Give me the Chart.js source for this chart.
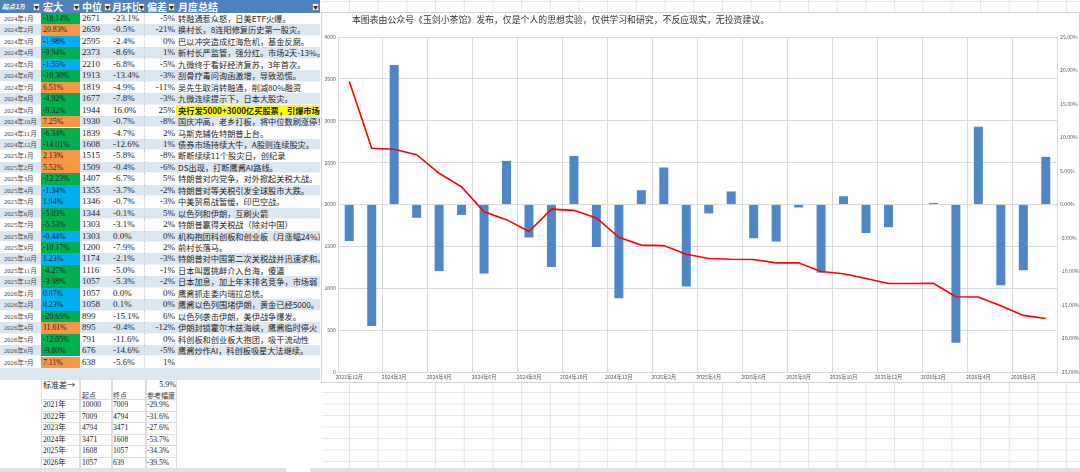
<!DOCTYPE html>
<html>
<head>
<meta charset="utf-8">
<script src="https://cdn.jsdelivr.net/npm/chart.js@4.4.1/dist/chart.umd.min.js"></script>
<style>
    body {
        margin: 0;
        width: 1080px;
        height: 472px;
        overflow: hidden;
        position: relative;
        background: #fff;
        font-family: "Liberation Serif", "Noto Sans CJK SC", serif;
        color: #222;
    }
    .sheet {
        position: absolute;
        left: 322px;
        top: 0;
        width: 758px;
        height: 472px;
        background-image: linear-gradient(to right, #e6e6e6 1px, transparent 1px),
                          linear-gradient(to bottom, #e6e6e6 1px, transparent 1px);
        background-size: 28.7px 11.5px;
        background-position: 27px 1px;
    }
    .cell {
        position: absolute;
        white-space: nowrap;
        overflow: hidden;
        box-sizing: border-box;
    }
    .hdr {
        position: absolute;
        left: 0;
        top: 0;
        width: 320px;
        height: 13px;
        background: #4f81bd;
        color: #fff;
        font-family: "Noto Sans CJK SC", sans-serif;
        font-weight: bold;
    }
    .dd {
        position: absolute;
        top: 3px;
        width: 7px;
        height: 8px;
        background: #f4f4f4;
        border: 1px solid #8a8a8a;
        box-sizing: border-box;
        color: #222;
        font-size: 5px;
        line-height: 6px;
        text-align: center;
        font-weight: normal;
    }
    #chartBox {
        position: absolute;
        left: 321px;
        top: 12px;
        width: 759px;
        height: 371px;
        background: #fff;
        border: 1px solid #d4d4d4;
        box-sizing: border-box;
    }
    #chartTitle {
        position: absolute;
        left: 352px;
        top: 13px;
        font-family: "Noto Sans CJK SC", sans-serif;
        font-size: 8.9px;
        line-height: 13px;
        color: #333;
        white-space: nowrap;
    }
</style>
</head>
<body>
<div class="sheet"></div>
<div id="tbl"></div>
<div id="stats"></div>
<div id="chartBox"></div>
<canvas id="comboChart" width="758" height="370" style="position:absolute;left:322px;top:13px;"></canvas>
<div id="chartTitle">本图表由公众号《玉剑小茶馆》发布，仅是个人的思想实验，仅供学习和研究，不反应现实，无投资建议。</div>
<div style="position:absolute;left:0;top:468px;width:286px;height:4px;background:#e2e2e2;"></div>
<div style="position:absolute;left:310px;top:468px;width:770px;height:4px;background:#e2e2e2;"></div>

<script>
const months = ['2024年1月', '2024年2月', '2024年3月', '2024年4月', '2024年5月', '2024年6月',
    '2024年7月', '2024年8月', '2024年9月', '2024年10月', '2024年11月', '2024年12月',
    '2025年1月', '2025年2月', '2025年3月', '2025年4月', '2025年5月', '2025年6月',
    '2025年7月', '2025年8月', '2025年9月', '2025年10月', '2025年11月', '2025年12月',
    '2026年1月', '2026年2月', '2026年3月', '2026年4月', '2026年5月', '2026年6月', '2026年7月'];
const hongda = [-18.14, 20.83, -1.98, -9.94, -1.55, -10.30, 6.51, -4.92, -9.32, 7.25, -6.34, -14.01,
    2.13, 5.52, -12.23, -1.34, 1.94, -5.03, -5.53, -0.44, -10.17, 1.23, -4.27, -3.38,
    0.07, 0.23, -20.65, 11.61, -12.05, -9.80, 7.11];
const median = [2671, 2659, 2595, 2373, 2210, 1913, 1819, 1677, 1944, 1930, 1839, 1608,
    1515, 1509, 1407, 1355, 1346, 1344, 1303, 1303, 1200, 1174, 1116, 1057,
    1057, 1058, 899, 895, 791, 676, 638];
const monthChange = [-23.1, -0.5, -2.4, -8.6, -6.8, -13.4, -4.9, -7.8, 16.0, -0.7, -4.7, -12.6,
    -5.8, -0.4, -6.7, -3.7, -0.7, -0.1, -3.1, 0.0, -7.9, -2.1, -5.0, -5.3,
    0.0, 0.1, -15.1, -0.4, -11.6, -14.6, -5.6];
const deviation = [-5, -21, 0, 1, -5, -3, -11, -3, 25, -8, 2, 1,
    -8, -6, 5, -2, -3, 5, 2, 0, 2, -3, -1, -2,
    0, 0, 6, -12, 0, -5, 1];
const summary = ['转融通惹众怒，日美ETF火爆。', '换村长，8连阳修复历史第一股灾。', '巴以冲突造成红海危机，基金反腐。',
    '新村长严监管，强分红。市场2天-13%。', '九微终于看好经济复苏，3年首次。', '刮骨疗毒问询函激增，导致恐慌。',
    '吴先生取消转融通，削减80%融资', '九微连续提示下，日本大股灾。', '央行发5000+3000亿买股票，引爆市场',
    '国庆冲高，老乡打板，将中位数刷涨停！', '马斯克辅佐特朗普上台。', '债券市场持续大牛，A股则连续股灾。',
    '断断续续11个股灾日，创纪录', 'DS出现，打断鹰酱AI路线。', '特朗普对内党争，对外掀起关税大战。',
    '特朗普对等关税引发全球股市大跌。', '中美贸易战暂缓，印巴空战。', '以色列和伊朗，互刷火箭',
    '特朗普赢得关税战（除对中国）', '机构抱团科创板和创业板（月涨幅24%）', '前村长落马。',
    '特朗普对中国第二次关税战并迅速求和。', '日本叫嚣挑衅介入台海，傻逼', '日本加息，加上年末排名竞争，市场弱',
    '鹰酱抓走委内瑞拉总统。', '鹰酱以色列围堵伊朗，黄金已经5000。', '以色列袭击伊朗，美伊战争爆发。',
    '伊朗封锁霍尔木兹海峡，鹰酱临时停火', '科创板和创业板大抱团，吸干流动性', '鹰酱炒作AI，科创板吸星大法继续。', ''];

// chart series: start point (2023年12月) + monthly rows
const startMonth = '2023年12月';
const startBar = -5.45;
const startMedian = 3471;
const chartMonths = [startMonth].concat(months);
const barValues = [startBar].concat(hongda);
const lineValues = [startMedian].concat(median);

// yearly stats table
const statYears = ['2021年', '2022年', '2023年', '2024年', '2025年', '2026年'];
const statStart = [10000, 7009, 4794, 3471, 1608, 1057];
const statEnd = [7009, 4794, 3471, 1608, 1057, 639];
const statRange = ['-29.9%', '-31.6%', '-27.6%', '-53.7%', '-34.3%', '-39.5%'];
const stdDev = '5.9%';

const ROW_H = 11.45;

function hongdaColor(v) {
    if (v > 2) return '#f79646';
    if (v < -2) return '#00b050';
    return '#00b0f0';
}

function buildTable() {
    const tbl = document.getElementById('tbl');
    let html = `
        <div class="hdr">
            <div class="cell" style="left:2px;top:0;height:13px;line-height:13px;font-size:6.5px;font-style:italic;">起点1万</div>
            <div class="dd" style="left:33px;">▼</div>
            <div class="cell" style="left:43px;top:0;height:13px;line-height:13px;font-size:10px;">宏大</div>
            <div class="dd" style="left:73px;">▼</div>
            <div class="cell" style="left:82px;top:0;height:13px;line-height:13px;font-size:10px;">中位</div>
            <div class="dd" style="left:104px;">▼</div>
            <div class="cell" style="left:112px;top:0;height:13px;line-height:13px;font-size:10px;">月环比</div>
            <div class="dd" style="left:138px;">▼</div>
            <div class="cell" style="left:147px;top:0;height:13px;line-height:13px;font-size:10px;">偏差</div>
            <div class="dd" style="left:168px;">▼</div>
            <div class="cell" style="left:178px;top:0;height:13px;line-height:13px;font-size:10px;">月度总结</div>
            <div class="dd" style="left:312px;">▼</div>
        </div>`;

    months.forEach((m, i) => {
        const top = 13 + i * ROW_H;
        const bg = i % 2 === 0 ? '#ffffff' : '#dce6f1';
        const base = `top:${top}px;height:${ROW_H}px;line-height:${ROW_H}px;`;
        const special = summary[i].indexOf('央行') === 0;
        html += `
            <div class="cell" style="left:0;width:320px;${base}background:${bg};border-bottom:1px solid rgba(255,255,255,0.6);"></div>
            <div class="cell" style="left:4px;width:37px;${base}font-size:6.6px;color:#444;">${m}</div>
            <div class="cell" style="left:41px;width:39px;${base}background:${hongdaColor(hongda[i])};font-size:7.8px;padding-left:2px;color:#222;">${hongda[i].toFixed(2)}%</div>
            <div class="cell" style="left:82px;width:29px;${base}font-size:9px;">${median[i]}</div>
            <div class="cell" style="left:111px;width:34px;${base}font-size:9px;padding-left:2px;border-right:1px dotted #c4cedb;">${monthChange[i].toFixed(1)}%</div>
            <div class="cell" style="left:145px;width:31px;${base}font-size:9px;text-align:right;padding-right:1px;">${deviation[i]}%</div>
            <div class="cell" style="left:176px;width:144px;${base}font-family:'Noto Sans CJK SC',sans-serif;font-size:8.2px;padding-left:2px;${special ? 'background:#ffff00;font-weight:bold;' : ''}">${summary[i]}</div>`;
    });

    // empty banded row below the data
    html += `<div class="cell" style="left:0;width:320px;top:${13 + months.length * ROW_H}px;height:12px;background:#dce6f1;"></div>`;
    tbl.innerHTML = html;
}

function buildStats() {
    const stats = document.getElementById('stats');
    const cjk = "font-family:'Noto Sans CJK SC',sans-serif;";
    let html = `
        <div class="cell" style="left:43px;top:380px;height:10px;line-height:10px;font-size:8px;${cjk}">标准差→</div>
        <div class="cell" style="left:146px;width:30px;top:380px;height:10px;line-height:10px;font-size:8px;text-align:right;">${stdDev}</div>
        <div class="cell" style="left:82px;top:390px;height:10px;line-height:10px;font-size:7px;${cjk}color:#333;">起点</div>
        <div class="cell" style="left:113px;top:390px;height:10px;line-height:10px;font-size:7px;${cjk}color:#333;">终点</div>
        <div class="cell" style="left:147px;top:390px;height:10px;line-height:10px;font-size:7px;${cjk}color:#333;">参考幅度</div>`;
    const cols = [[41, 39], [80, 32], [112, 34], [146, 31]];
    cols.forEach(c => {
        html += `<div class="cell" style="left:${c[0]}px;width:${c[1]}px;top:380px;height:90px;border-left:1px solid #dedede;border-right:1px solid #dedede;"></div>`;
    });
    statYears.forEach((y, k) => {
        const top = 399 + k * 11.5;
        const base = `top:${top}px;height:11.5px;line-height:11.5px;`;
        html += `
            <div class="cell" style="left:41px;width:136px;${base}border-top:1px solid #dedede;"></div>
            <div class="cell" style="left:43px;${base}font-size:7.6px;">${y}</div>
            <div class="cell" style="left:82px;${base}font-size:7.6px;">${statStart[k]}</div>
            <div class="cell" style="left:113px;${base}font-size:7.6px;">${statEnd[k]}</div>
            <div class="cell" style="left:147px;${base}font-size:7.6px;">${statRange[k]}</div>`;
    });
    stats.innerHTML = html;
}

function drawChart() {
    const ctx = document.getElementById('comboChart').getContext('2d');
    const gridColor = '#d9d9d9';
    const tickFont = { family: "'Noto Sans CJK SC', sans-serif", size: 5.2 };

    new Chart(ctx, {
        data: {
            labels: chartMonths,
            datasets: [{
                type: 'line',
                data: lineValues,
                yAxisID: 'y',
                borderColor: '#ff0000',
                borderWidth: 1.6,
                pointRadius: 0,
                tension: 0,
                order: 0
            }, {
                type: 'bar',
                data: barValues,
                yAxisID: 'y1',
                backgroundColor: '#4f86c6',
                categoryPercentage: 1,
                barPercentage: 0.4,
                order: 1
            }]
        },
        options: {
            responsive: false,
            animation: false,
            layout: { padding: { top: 24, left: 0, right: 0, bottom: 0 } },
            plugins: {
                legend: { display: false },
                tooltip: { enabled: false }
            },
            scales: {
                x: {
                    offset: true,
                    grid: {
                        offset: true,
                        drawTicks: false,
                        color: c => (c.index % 2 === 0 ? gridColor : 'rgba(0,0,0,0)')
                    },
                    border: { display: true, color: gridColor },
                    ticks: {
                        autoSkip: false,
                        maxRotation: 0,
                        padding: 2,
                        font: tickFont,
                        color: '#595959',
                        callback: function (v, i) {
                            return i % 2 === 0 ? this.getLabelForValue(v) : '';
                        }
                    },
                    afterFit: s => { s.height = 11; }
                },
                y: {
                    position: 'left',
                    min: 0,
                    max: 4000,
                    grid: { color: gridColor, drawTicks: false },
                    border: { display: true, color: gridColor },
                    ticks: {
                        stepSize: 500,
                        padding: 2,
                        font: tickFont,
                        color: '#595959',
                        callback: v => String(v)
                    },
                    afterFit: s => { s.width = 16; }
                },
                y1: {
                    position: 'right',
                    min: -25,
                    max: 25,
                    grid: { drawOnChartArea: false, drawTicks: false },
                    border: { display: true, color: gridColor },
                    ticks: {
                        stepSize: 5,
                        padding: 3,
                        font: tickFont,
                        color: '#595959',
                        callback: v => v.toFixed(2) + '%'
                    },
                    afterFit: s => { s.width = 23; }
                }
            }
        }
    });
}

buildTable();
buildStats();
drawChart();
</script>
</body>
</html>
